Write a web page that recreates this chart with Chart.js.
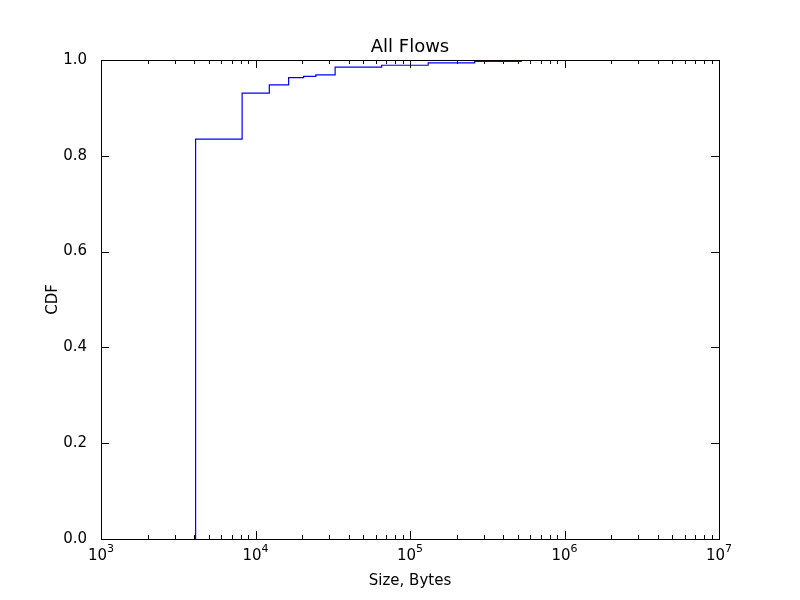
<!DOCTYPE html>
<html>
<head>
<script src="https://cdn.jsdelivr.net/npm/chart.js@4"></script>
<style>body{margin:0;background:#fff}</style>
</head>
<body>
<canvas id="c" width="800" height="600"></canvas>
<script>
const sizes = [4096, 4096, 8192, 12288, 16384, 20480, 24576, 32768, 65536, 131072, 262144, 524288, 10000000]
const cdf = [0, 0.835, 0.931, 0.948, 0.963, 0.966, 0.969, 0.985, 0.989, 0.994, 0.997, 1.0, 1.0]
const xTicks = [1e3, 1e4, 1e5, 1e6, 1e7]
const xLabels = ['10³', '10⁴', '10⁵', '10⁶', '10⁷']
const yTicks = [0, 0.2, 0.4, 0.6, 0.8, 1.0]

const sup = { '10³': ['10', '3'], '10⁴': ['10', '4'], '10⁵': ['10', '5'], '10⁶': ['10', '6'], '10⁷': ['10', '7'] }

// matplotlib style inward ticks, box, title
const innerTicks = {
  id: 'innerTicks',
  afterDraw (chart) {
    const ctx = chart.ctx
    const a = chart.chartArea
    const xs = chart.scales.x
    const ys = chart.scales.y
    ctx.save()
    ctx.strokeStyle = '#000'
    ctx.lineWidth = 1
    ctx.strokeRect(a.left + 0.5, a.top + 0.5, a.right - a.left, a.bottom - a.top)
    ctx.beginPath()
    for (let d = 3; d < 7; d++) {
      for (let m = 1; m < 10; m++) {
        const px = Math.round(xs.getPixelForValue(m * Math.pow(10, d))) + 0.5
        const len = m === 1 ? 8 : 4
        ctx.moveTo(px, a.bottom); ctx.lineTo(px, a.bottom - len)
        ctx.moveTo(px, a.top); ctx.lineTo(px, a.top + len)
      }
    }
    yTicks.forEach(v => {
      const py = Math.round(ys.getPixelForValue(v)) + 0.5
      ctx.moveTo(a.left, py); ctx.lineTo(a.left + 8, py)
      ctx.moveTo(a.right, py); ctx.lineTo(a.right - 8, py)
    })
    ctx.stroke()
    ctx.fillStyle = '#000'
    ctx.textAlign = 'center'
    ctx.textBaseline = 'bottom'
    ctx.font = '18px "DejaVu Sans"'
    ctx.fillText('All Flows', (a.left + a.right) / 2, a.top - 4)
    ctx.textAlign = 'left'
    ctx.textBaseline = 'top'
    xTicks.forEach((v, i) => {
      const px = xs.getPixelForValue(v)
      const [b, e] = sup[xLabels[i]]
      ctx.font = '15px "DejaVu Sans"'
      const wb = ctx.measureText(b).width
      ctx.font = '11px "DejaVu Sans"'
      const we = ctx.measureText(e).width
      const x0 = px - (wb + we) / 2
      ctx.font = '15px "DejaVu Sans"'
      ctx.fillText(b, x0, a.bottom + 10)
      ctx.font = '11px "DejaVu Sans"'
      ctx.fillText(e, x0 + wb, a.bottom + 5)
    })
    ctx.restore()
  }
}

new Chart(document.getElementById('c'), {
  type: 'line',
  data: {
    datasets: [{
      data: sizes.map((s, i) => ({ x: s, y: cdf[i] })),
      borderColor: '#0000ff',
      borderWidth: 1.2,
      pointRadius: 0,
      stepped: 'before',
      fill: false
    }]
  },
  options: {
    responsive: false,
    animation: false,
    layout: { padding: { left: 44, right: 81, top: 60, bottom: 0 } },
    plugins: {
      legend: { display: false },
      tooltip: { enabled: false },
      title: { display: false }
    },
    scales: {
      x: {
        type: 'logarithmic', min: 1e3, max: 1e7,
        grid: { display: false },
        border: { display: false },
        afterBuildTicks: s => { s.ticks = xTicks.map(v => ({ value: v })) },
        ticks: { callback: () => '', padding: 0, font: { size: 15 } },
        title: { display: true, text: 'Size, Bytes', color: '#000', font: { family: 'DejaVu Sans', size: 15 }, padding: { top: 0, bottom: 10 } },
        afterFit: s => { s.height = 61 }
      },
      y: {
        min: 0, max: 1,
        grid: { display: false },
        border: { display: false },
        afterBuildTicks: s => { s.ticks = yTicks.map(v => ({ value: v })) },
        ticks: { color: '#000', padding: 6, font: { family: 'DejaVu Sans', size: 15 }, callback: v => v.toFixed(1) },
        title: { display: true, text: 'CDF', color: '#000', font: { family: 'DejaVu Sans', size: 15 }, padding: { top: 0, bottom: 0 } },
        afterFit: s => { s.width = 57 }
      }
    }
  },
  plugins: [innerTicks]
})
</script>
</body>
</html>
